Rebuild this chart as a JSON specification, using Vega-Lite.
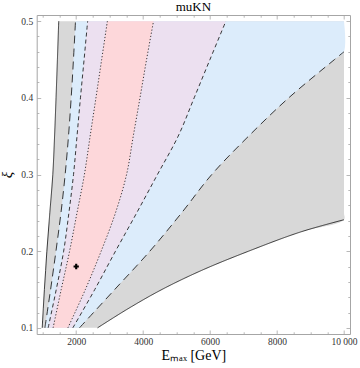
{
  "$schema": "https://vega.github.io/schema/vega-lite/v6.json",
  "width": 313.3,
  "height": 319,
  "autosize": {"type": "none"},
  "padding": {"left": 36.7, "top": 15, "right": 10, "bottom": 34},
  "background": "white",
  "title": {"text": "muKN", "font": "Liberation Serif", "fontSize": 13, "fontWeight": "normal", "color": "#000000", "offset": 1},
  "config": {
    "view": {"stroke": "#a6a6a6", "strokeWidth": 1},
    "axis": {
      "domain": false, "grid": false,
      "labelFont": "Liberation Serif", "labelFontSize": 9.5, "labelColor": "#333333",
      "tickColor": "#a6a6a6", "tickWidth": 0.8,
      "titleFont": "Liberation Serif", "titleFontWeight": "normal", "titleColor": "#000000",
      "labelFlush": false, "labelOverlap": false
    }
  },
  "datasets": {
    "areas": [
      {"band": "grey", "xi": 0.1, "lo": 985, "hi": 2637},
      {"band": "grey", "xi": 0.125, "lo": 1017, "hi": 3550},
      {"band": "grey", "xi": 0.15, "lo": 1050, "hi": 4560},
      {"band": "grey", "xi": 0.175, "lo": 1087, "hi": 5750},
      {"band": "grey", "xi": 0.2, "lo": 1124, "hi": 7150},
      {"band": "grey", "xi": 0.225, "lo": 1168, "hi": 8700},
      {"band": "grey", "xi": 0.241, "lo": 1196, "hi": 10000},
      {"band": "grey", "xi": 0.25, "lo": 1212, "hi": 10000},
      {"band": "grey", "xi": 0.3, "lo": 1301, "hi": 10000},
      {"band": "grey", "xi": 0.35, "lo": 1354, "hi": 10000},
      {"band": "grey", "xi": 0.4, "lo": 1398, "hi": 10000},
      {"band": "grey", "xi": 0.45, "lo": 1439, "hi": 10000},
      {"band": "grey", "xi": 0.5, "lo": 1478, "hi": 10000},
      {"band": "blue", "xi": 0.1, "lo": 1065, "hi": 2097},
      {"band": "blue", "xi": 0.15, "lo": 1235, "hi": 3150},
      {"band": "blue", "xi": 0.2, "lo": 1395, "hi": 4200},
      {"band": "blue", "xi": 0.25, "lo": 1545, "hi": 5150},
      {"band": "blue", "xi": 0.3, "lo": 1670, "hi": 6050},
      {"band": "blue", "xi": 0.35, "lo": 1770, "hi": 7150},
      {"band": "blue", "xi": 0.4, "lo": 1850, "hi": 8350},
      {"band": "blue", "xi": 0.45, "lo": 1918, "hi": 9720},
      {"band": "blue", "xi": 0.46, "lo": 1930, "hi": 10000},
      {"band": "blue", "xi": 0.5, "lo": 1979, "hi": 10000},
      {"band": "lav", "xi": 0.1, "lo": 1162, "hi": 1900},
      {"band": "lav", "xi": 0.15, "lo": 1404, "hi": 2555},
      {"band": "lav", "xi": 0.2, "lo": 1625, "hi": 3174},
      {"band": "lav", "xi": 0.25, "lo": 1782, "hi": 3808},
      {"band": "lav", "xi": 0.3, "lo": 1920, "hi": 4428},
      {"band": "lav", "xi": 0.35, "lo": 2024, "hi": 5047},
      {"band": "lav", "xi": 0.4, "lo": 2127, "hi": 5525},
      {"band": "lav", "xi": 0.45, "lo": 2236, "hi": 5997},
      {"band": "lav", "xi": 0.5, "lo": 2342, "hi": 6472},
      {"band": "pink", "xi": 0.1, "lo": 1310, "hi": 1752},
      {"band": "pink", "xi": 0.15, "lo": 1552, "hi": 2274},
      {"band": "pink", "xi": 0.2, "lo": 1802, "hi": 2746},
      {"band": "pink", "xi": 0.25, "lo": 2024, "hi": 3174},
      {"band": "pink", "xi": 0.3, "lo": 2245, "hi": 3505},
      {"band": "pink", "xi": 0.35, "lo": 2416, "hi": 3705},
      {"band": "pink", "xi": 0.4, "lo": 2590, "hi": 3906},
      {"band": "pink", "xi": 0.45, "lo": 2761, "hi": 4103},
      {"band": "pink", "xi": 0.5, "lo": 2932, "hi": 4310}
    ],
    "lines": [
      {"branch": "solidL", "style": "solid", "xi": 0.1, "x": 985},
      {"branch": "solidL", "style": "solid", "xi": 0.125, "x": 1017},
      {"branch": "solidL", "style": "solid", "xi": 0.15, "x": 1050},
      {"branch": "solidL", "style": "solid", "xi": 0.175, "x": 1087},
      {"branch": "solidL", "style": "solid", "xi": 0.2, "x": 1124},
      {"branch": "solidL", "style": "solid", "xi": 0.225, "x": 1168},
      {"branch": "solidL", "style": "solid", "xi": 0.25, "x": 1212},
      {"branch": "solidL", "style": "solid", "xi": 0.3, "x": 1301},
      {"branch": "solidL", "style": "solid", "xi": 0.35, "x": 1354},
      {"branch": "solidL", "style": "solid", "xi": 0.4, "x": 1398},
      {"branch": "solidL", "style": "solid", "xi": 0.45, "x": 1439},
      {"branch": "solidL", "style": "solid", "xi": 0.5, "x": 1478},
      {"branch": "solidR", "style": "solid", "xi": 0.1, "x": 2637},
      {"branch": "solidR", "style": "solid", "xi": 0.125, "x": 3550},
      {"branch": "solidR", "style": "solid", "xi": 0.15, "x": 4560},
      {"branch": "solidR", "style": "solid", "xi": 0.175, "x": 5750},
      {"branch": "solidR", "style": "solid", "xi": 0.2, "x": 7150},
      {"branch": "solidR", "style": "solid", "xi": 0.225, "x": 8700},
      {"branch": "solidR", "style": "solid", "xi": 0.241, "x": 10000},
      {"branch": "longL", "style": "long", "xi": 0.1, "x": 1065},
      {"branch": "longL", "style": "long", "xi": 0.15, "x": 1235},
      {"branch": "longL", "style": "long", "xi": 0.2, "x": 1395},
      {"branch": "longL", "style": "long", "xi": 0.25, "x": 1545},
      {"branch": "longL", "style": "long", "xi": 0.3, "x": 1670},
      {"branch": "longL", "style": "long", "xi": 0.35, "x": 1770},
      {"branch": "longL", "style": "long", "xi": 0.4, "x": 1850},
      {"branch": "longL", "style": "long", "xi": 0.45, "x": 1918},
      {"branch": "longL", "style": "long", "xi": 0.5, "x": 1979},
      {"branch": "longR", "style": "long", "xi": 0.1, "x": 2097},
      {"branch": "longR", "style": "long", "xi": 0.15, "x": 3150},
      {"branch": "longR", "style": "long", "xi": 0.2, "x": 4200},
      {"branch": "longR", "style": "long", "xi": 0.25, "x": 5150},
      {"branch": "longR", "style": "long", "xi": 0.3, "x": 6050},
      {"branch": "longR", "style": "long", "xi": 0.35, "x": 7150},
      {"branch": "longR", "style": "long", "xi": 0.4, "x": 8350},
      {"branch": "longR", "style": "long", "xi": 0.45, "x": 9720},
      {"branch": "longR", "style": "long", "xi": 0.46, "x": 10000},
      {"branch": "medL", "style": "med", "xi": 0.1, "x": 1162},
      {"branch": "medL", "style": "med", "xi": 0.15, "x": 1404},
      {"branch": "medL", "style": "med", "xi": 0.2, "x": 1625},
      {"branch": "medL", "style": "med", "xi": 0.25, "x": 1782},
      {"branch": "medL", "style": "med", "xi": 0.3, "x": 1920},
      {"branch": "medL", "style": "med", "xi": 0.35, "x": 2024},
      {"branch": "medL", "style": "med", "xi": 0.4, "x": 2127},
      {"branch": "medL", "style": "med", "xi": 0.45, "x": 2236},
      {"branch": "medL", "style": "med", "xi": 0.5, "x": 2342},
      {"branch": "medR", "style": "med", "xi": 0.1, "x": 1900},
      {"branch": "medR", "style": "med", "xi": 0.15, "x": 2555},
      {"branch": "medR", "style": "med", "xi": 0.2, "x": 3174},
      {"branch": "medR", "style": "med", "xi": 0.25, "x": 3808},
      {"branch": "medR", "style": "med", "xi": 0.3, "x": 4428},
      {"branch": "medR", "style": "med", "xi": 0.35, "x": 5047},
      {"branch": "medR", "style": "med", "xi": 0.4, "x": 5525},
      {"branch": "medR", "style": "med", "xi": 0.45, "x": 5997},
      {"branch": "medR", "style": "med", "xi": 0.5, "x": 6472},
      {"branch": "dotL", "style": "dot", "xi": 0.1, "x": 1310},
      {"branch": "dotL", "style": "dot", "xi": 0.15, "x": 1552},
      {"branch": "dotL", "style": "dot", "xi": 0.2, "x": 1802},
      {"branch": "dotL", "style": "dot", "xi": 0.25, "x": 2024},
      {"branch": "dotL", "style": "dot", "xi": 0.3, "x": 2245},
      {"branch": "dotL", "style": "dot", "xi": 0.35, "x": 2416},
      {"branch": "dotL", "style": "dot", "xi": 0.4, "x": 2590},
      {"branch": "dotL", "style": "dot", "xi": 0.45, "x": 2761},
      {"branch": "dotL", "style": "dot", "xi": 0.5, "x": 2932},
      {"branch": "dotR", "style": "dot", "xi": 0.1, "x": 1752},
      {"branch": "dotR", "style": "dot", "xi": 0.15, "x": 2274},
      {"branch": "dotR", "style": "dot", "xi": 0.2, "x": 2746},
      {"branch": "dotR", "style": "dot", "xi": 0.25, "x": 3174},
      {"branch": "dotR", "style": "dot", "xi": 0.3, "x": 3505},
      {"branch": "dotR", "style": "dot", "xi": 0.35, "x": 3705},
      {"branch": "dotR", "style": "dot", "xi": 0.4, "x": 3906},
      {"branch": "dotR", "style": "dot", "xi": 0.45, "x": 4103},
      {"branch": "dotR", "style": "dot", "xi": 0.5, "x": 4310}
    ],
    "marker": [{"x": 2000, "xi": 0.18}]
  },
  "layer": [
    {
      "data": {"name": "areas"},
      "transform": [{"filter": "datum.band === 'grey'"}],
      "mark": {"type": "area", "orient": "horizontal", "interpolate": "catmull-rom", "color": "#d8d8d8"},
      "encoding": {
        "y": {"field": "xi", "type": "quantitative", "scale": {"domain": [0.092, 0.508], "nice": false, "zero": false},
              "axis": {"orient": "left", "values": [0.1, 0.2, 0.3, 0.4, 0.5], "format": ".1f", "tickSize": -4, "labelPadding": 8,
                       "title": "ξ", "titleFontSize": 15, "titleFontStyle": "italic", "titlePadding": 6}},
        "x": {"field": "lo", "type": "quantitative", "scale": {"domain": [820, 10180], "nice": false, "zero": false},
              "axis": {"orient": "bottom", "values": [2000, 4000, 6000, 8000, 10000], "format": "d",
                       "labelExpr": "datum.value === 10000 ? '10 000' : datum.label", "tickSize": -4, "labelPadding": 6,
                       "title": "Eₘₐₓ [GeV]", "titleFontSize": 14, "titlePadding": 3}},
        "x2": {"field": "hi"}
      }
    },
    {
      "data": {"name": "areas"},
      "transform": [{"filter": "datum.band === 'blue'"}],
      "mark": {"type": "area", "orient": "horizontal", "interpolate": "catmull-rom", "color": "#dcecfb"},
      "encoding": {
        "y": {"field": "xi", "type": "quantitative", "scale": {"domain": [0.092, 0.508], "nice": false, "zero": false},
              "axis": {"orient": "left", "values": [0.12, 0.14, 0.16, 0.18, 0.22, 0.24, 0.26, 0.28, 0.32, 0.34, 0.36, 0.38, 0.42, 0.44, 0.46, 0.48],
                       "labels": false, "tickSize": -2.2, "title": null}},
        "x": {"field": "lo", "type": "quantitative", "scale": {"domain": [820, 10180], "nice": false, "zero": false},
              "axis": {"orient": "bottom", "values": [1000, 1500, 2500, 3000, 3500, 4500, 5000, 5500, 6500, 7000, 7500, 8500, 9000, 9500],
                       "labels": false, "tickSize": -2.2, "title": null}},
        "x2": {"field": "hi"}
      }
    },
    {
      "data": {"name": "areas"},
      "transform": [{"filter": "datum.band === 'lav'"}],
      "mark": {"type": "area", "orient": "horizontal", "interpolate": "catmull-rom", "color": "#ece0f0"},
      "encoding": {
        "y": {"field": "xi", "type": "quantitative", "scale": {"domain": [0.092, 0.508], "nice": false, "zero": false},
              "axis": {"orient": "right", "values": [0.1, 0.2, 0.3, 0.4, 0.5], "labels": false, "tickSize": -4, "title": null}},
        "x": {"field": "lo", "type": "quantitative", "scale": {"domain": [820, 10180], "nice": false, "zero": false},
              "axis": {"orient": "top", "values": [2000, 4000, 6000, 8000, 10000], "labels": false, "tickSize": -4, "title": null}},
        "x2": {"field": "hi"}
      }
    },
    {
      "data": {"name": "areas"},
      "transform": [{"filter": "datum.band === 'pink'"}],
      "mark": {"type": "area", "orient": "horizontal", "interpolate": "catmull-rom", "color": "#fdd7da"},
      "encoding": {
        "y": {"field": "xi", "type": "quantitative", "scale": {"domain": [0.092, 0.508], "nice": false, "zero": false},
              "axis": {"orient": "right", "values": [0.12, 0.14, 0.16, 0.18, 0.22, 0.24, 0.26, 0.28, 0.32, 0.34, 0.36, 0.38, 0.42, 0.44, 0.46, 0.48],
                       "labels": false, "tickSize": -2.2, "title": null}},
        "x": {"field": "lo", "type": "quantitative", "scale": {"domain": [820, 10180], "nice": false, "zero": false},
              "axis": {"orient": "top", "values": [1000, 1500, 2500, 3000, 3500, 4500, 5000, 5500, 6500, 7000, 7500, 8500, 9000, 9500],
                       "labels": false, "tickSize": -2.2, "title": null}},
        "x2": {"field": "hi"}
      }
    },
    {
      "data": {"name": "lines"},
      "mark": {"type": "line", "interpolate": "catmull-rom", "strokeWidth": 0.9, "color": "#222222"},
      "encoding": {
        "y": {"field": "xi", "type": "quantitative", "scale": {"domain": [0.092, 0.508], "nice": false, "zero": false}, "axis": null},
        "x": {"field": "x", "type": "quantitative", "scale": {"domain": [820, 10180], "nice": false, "zero": false}, "axis": null},
        "detail": {"field": "branch"},
        "order": {"field": "xi", "type": "quantitative"},
        "strokeDash": {"field": "style", "type": "nominal", "legend": null,
                       "scale": {"domain": ["solid", "long", "med", "dot"], "range": [[1, 0], [8, 5], [4, 3], [1.2, 2]]}}
      }
    },
    {
      "data": {"name": "marker"},
      "mark": {"type": "point", "shape": "cross", "filled": true, "color": "#000000", "size": 28, "opacity": 1},
      "encoding": {
        "y": {"field": "xi", "type": "quantitative", "scale": {"domain": [0.092, 0.508], "nice": false, "zero": false}, "axis": null},
        "x": {"field": "x", "type": "quantitative", "scale": {"domain": [820, 10180], "nice": false, "zero": false}, "axis": null}
      }
    }
  ],
  "resolve": {"axis": {"x": "independent", "y": "independent"}}
}
